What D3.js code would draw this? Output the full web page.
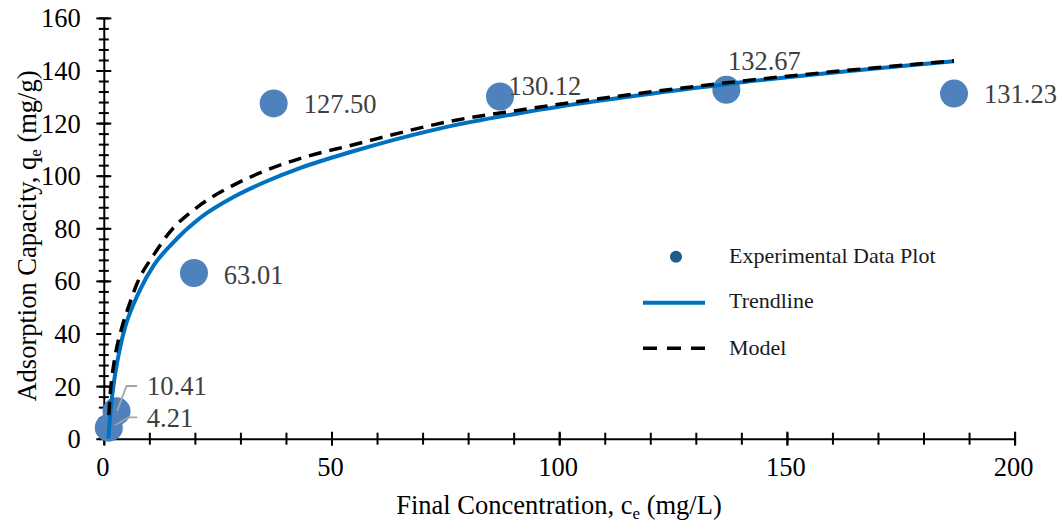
<!DOCTYPE html>
<html>
<head>
<meta charset="utf-8">
<script src="https://cdn.jsdelivr.net/npm/d3@7"></script>
<style>
  html, body { margin: 0; padding: 0; background: #fff; }
  svg { display: block; font-family: "Liberation Serif", "Times New Roman", serif; }
</style>
</head>
<body>
<svg id="chart" width="1062" height="529"></svg>
<script>
// Experimental adsorption data: final concentration (mg/L) and capacity (mg/g)
const ceData = [1.1, 2.8, 19.8, 37.3, 87.0, 136.7, 186.7];
const qeData = [4.21, 10.41, 63.01, 127.50, 130.12, 132.67, 131.23];

// Logarithmic trendline through the experimental points
const trendCe = [1.0, 1.5, 2.35, 3.5, 4.77, 6.5, 8.06, 11, 14.9, 21.2, 28.6, 35.9, 43.2, 54.2, 73.9, 93.7, 136.7, 186.7];
const trendQe = [0, 11, 23, 34, 43, 51, 57, 66, 74, 84, 92, 98, 103, 109, 118, 124.5, 134.8, 143.5];

// Isotherm model curve
const modelCe = [1.1, 1.4, 1.8, 2.6, 4.0, 5.5, 7.3, 11, 14, 21.2, 28.6, 35.9, 43.2, 54.2, 77, 91.5, 136.7, 186.7];
const modelQe = [9, 17, 23.5, 32.5, 42.5, 50.5, 59, 70, 77.5, 88.9, 96.5, 102.2, 106.6, 111.5, 121, 125, 135.3, 143.7];

// Axis ticks
const xMajorTicks = [0, 50, 100, 150, 200];
const yMajorTicks = [0, 20, 40, 60, 80, 100, 120, 140, 160];

const legendLabels = ["Experimental Data Plot", "Trendline", "Model"];

// Label placement relative to each marker (left edge / baseline offsets)
const labelOffsets = [
  [38, -0.5], [30.5, -16], [29.8, 10.6], [30, 9.9], [8.5, -1.5], [1.6, -19.8], [30, 9.7]
];
// Leader lines for the two crowded labels near the origin
const leaderLines = {
  0: [[28.5, -10.3], [20, -10.3], [6.5, -2.6]],
  1: [[20.5, -25.3], [10, -25.3], [0.5, -0.3]]
};

const svg = d3.select("#chart");
const x = d3.scaleLinear().domain([0, 200]).range([103.8, 1014.6]);
const y = d3.scaleLinear().domain([0, 160]).range([438.7, 17.9]);

const axisColor = "#000";
const tickFont = 26.5;
const titleFont = 26.5;

// ---- X axis ----
const gx = svg.append("g").attr("transform", `translate(0,${y(0)})`);
gx.call(d3.axisBottom(x).tickValues(d3.range(0, 201, 10)).tickFormat("").tickSizeOuter(0));
gx.selectAll(".tick line").attr("y1", -6).attr("y2", 6);
gx.call(g => g.select(".domain").remove());
const gxMaj = svg.append("g").attr("transform", `translate(0,${y(0)})`);
gxMaj.call(d3.axisBottom(x).tickValues(xMajorTicks).tickFormat(d3.format("d")).tickSizeOuter(0));
gxMaj.selectAll(".tick line").attr("y1", -7).attr("y2", 7);
gxMaj.selectAll(".tick text").attr("y", 37).attr("dy", null).attr("x", -1.5)
  .attr("font-size", tickFont).attr("font-family", "Liberation Serif, serif").attr("fill", "#000");
[gx, gxMaj].forEach(g => g.selectAll("line,path").attr("stroke", axisColor).attr("stroke-width", 2));

// ---- Y axis ----
const gy = svg.append("g").attr("transform", `translate(${x(0)},0)`);
gy.call(d3.axisLeft(y).tickValues(d3.range(0, 161, 4)).tickFormat("").tickSizeOuter(0));
gy.selectAll(".tick line").attr("x1", -5).attr("x2", 5);
gy.call(g => g.select(".domain").remove());
const gyMaj = svg.append("g").attr("transform", `translate(${x(0)},0)`);
gyMaj.call(d3.axisLeft(y).tickValues(yMajorTicks).tickFormat(d3.format("d")).tickSizeOuter(0));
gyMaj.selectAll(".tick line").attr("x1", -7.5).attr("x2", 7.5);
gyMaj.selectAll(".tick text").attr("x", -23).attr("dy", "0.34em")
  .attr("font-size", tickFont).attr("font-family", "Liberation Serif, serif").attr("fill", "#000");
[gy, gyMaj].forEach(g => g.selectAll("line,path").attr("stroke", axisColor).attr("stroke-width", 2));

// ---- Axis titles ----
const xTitle = svg.append("text").attr("x", 559).attr("y", 514)
  .attr("text-anchor", "middle").attr("font-size", titleFont).attr("fill", "#000");
xTitle.append("tspan").text("Final Concentration, c");
xTitle.append("tspan").text("e").attr("font-size", 17).attr("dy", 5);
xTitle.append("tspan").text(" (mg/L)").attr("dy", -5);

const yTitle = svg.append("text").attr("transform", "translate(36,236) rotate(-90)")
  .attr("text-anchor", "middle").attr("font-size", titleFont).attr("fill", "#000");
yTitle.append("tspan").text("Adsorption Capacity, q");
yTitle.append("tspan").text("e").attr("font-size", 17).attr("dy", 5);
yTitle.append("tspan").text(" (mg/g)").attr("dy", -5);

// ---- Experimental points ----
const points = ceData.map((c, i) => ({ ce: c, qe: qeData[i], i }));
svg.append("g").selectAll("circle").data(points).join("circle")
  .attr("cx", d => x(d.ce)).attr("cy", d => y(d.qe)).attr("r", 14)
  .attr("fill", "#4f81bd");

// ---- Data labels and leader lines ----
const lineGen = d3.line();
Object.entries(leaderLines).forEach(([k, pts]) => {
  const p = points[+k];
  svg.append("path")
    .attr("d", lineGen(pts.map(([dx, dy]) => [x(p.ce) + dx, y(p.qe) + dy])))
    .attr("fill", "none").attr("stroke", "#a6a6a6").attr("stroke-width", 1.8);
});
svg.append("g").selectAll("text").data(points).join("text")
  .attr("x", d => x(d.ce) + labelOffsets[d.i][0])
  .attr("y", d => y(d.qe) + labelOffsets[d.i][1])
  .attr("font-size", 26.5).attr("fill", "#404040")
  .text(d => d3.format(".2f")(d.qe));

// ---- Trendline and model curves ----
const curve = d3.line().x(d => x(d[0])).y(d => y(d[1])).curve(d3.curveMonotoneX);
svg.append("path").datum(trendCe.map((c, i) => [c, trendQe[i]]))
  .attr("d", curve).attr("fill", "none").attr("stroke", "#0070c0").attr("stroke-width", 4);
svg.append("path").datum(modelCe.map((c, i) => [c, modelQe[i]]))
  .attr("d", curve).attr("fill", "none").attr("stroke", "#000").attr("stroke-width", 3.5)
  .attr("stroke-dasharray", "13,8");

// ---- Legend ----
const lg = svg.append("g");
lg.append("circle").attr("cx", 676).attr("cy", 256.7).attr("r", 6).attr("fill", "#1f5c87");
lg.append("line").attr("x1", 643).attr("x2", 705).attr("y1", 302.7).attr("y2", 302.7)
  .attr("stroke", "#0070c0").attr("stroke-width", 4);
lg.append("line").attr("x1", 643).attr("x2", 705).attr("y1", 348.3).attr("y2", 348.3)
  .attr("stroke", "#000").attr("stroke-width", 3.5).attr("stroke-dasharray", "14,10");
lg.selectAll("text").data(legendLabels).join("text")
  .attr("x", 729).attr("y", (d, i) => [263, 308.3, 355][i])
  .attr("font-size", 22).attr("fill", "#1a1a1a").text(d => d);
</script>
</body>
</html>
